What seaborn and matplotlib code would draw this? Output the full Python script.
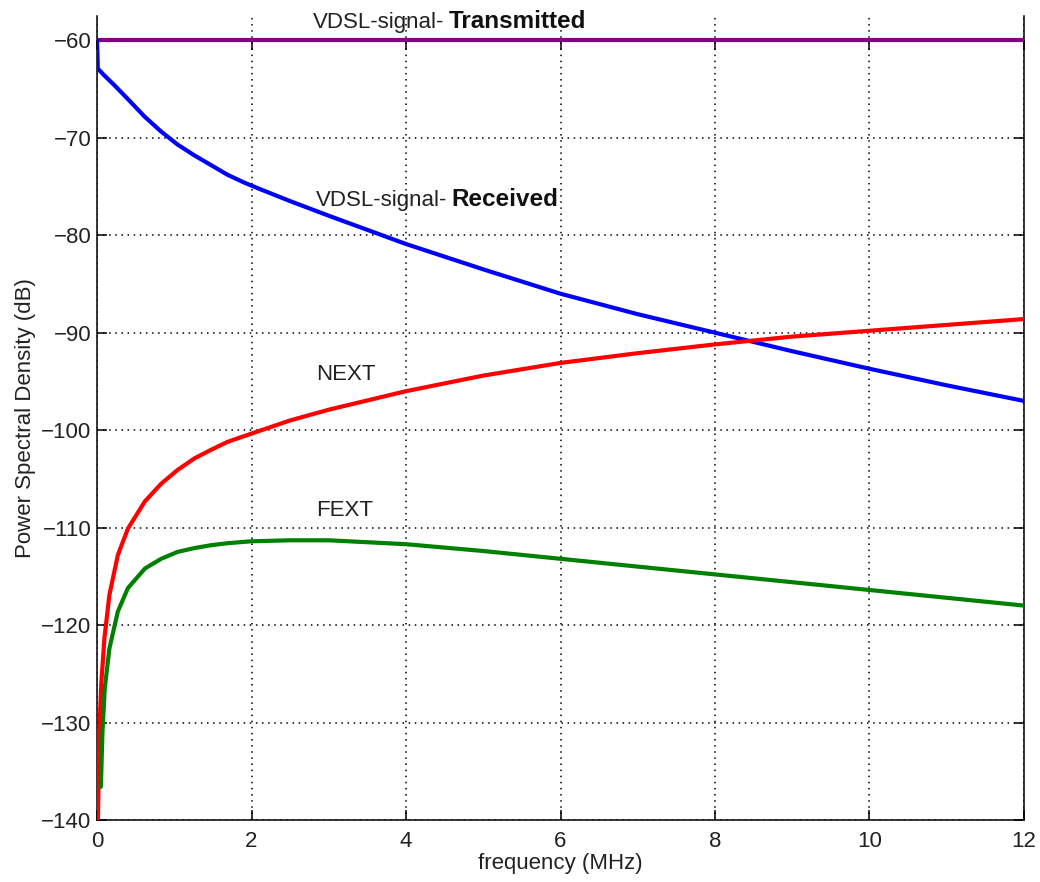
import numpy as np
import pandas as pd
import matplotlib
matplotlib.use("Agg")
import matplotlib.pyplot as plt
import seaborn as sns

# values (frequency in MHz, PSD in dB)
tx_freq = [0, 12]
tx_psd = [-60, -60]

rx_freq = [0, 0.01, 0.094, 0.224, 0.396, 0.612, 0.828, 1.043, 1.259, 1.475,
           1.69, 1.906, 2.12, 2.5, 3, 4, 5, 6, 7, 8, 9, 10, 11, 12]
rx_psd = [-60, -62.9, -63.6, -64.6, -66.0, -67.8, -69.35, -70.7, -71.8, -72.8,
          -73.8, -74.6, -75.3, -76.5, -78.0, -80.9, -83.5, -86.0, -88.1, -90.0,
          -91.9, -93.7, -95.4, -97.0]

next_freq = [0.012, 0.03, 0.055, 0.095, 0.16, 0.27, 0.40, 0.62, 0.83, 1.04,
             1.26, 1.48, 1.69, 2.0, 2.5, 3, 4, 5, 6, 7, 8, 9, 10, 11, 12]
next_psd = [-140, -131, -126, -121.4, -116.9, -112.8, -110.1, -107.3, -105.5,
            -104.1, -102.9, -102.0, -101.2, -100.35, -99.0, -97.9, -96.0,
            -94.4, -93.1, -92.1, -91.2, -90.4, -89.8, -89.2, -88.6]

fext_freq = [0.05, 0.07, 0.1, 0.16, 0.27, 0.40, 0.62, 0.83, 1.04, 1.26, 1.48,
             1.69, 2.0, 2.5, 3, 4, 5, 6, 7, 8, 9, 10, 11, 12]
fext_psd = [-136.6, -131.0, -126.5, -122.4, -118.6, -116.2, -114.2, -113.2,
            -112.5, -112.1, -111.8, -111.6, -111.4, -111.3, -111.3, -111.7,
            -112.4, -113.2, -114.0, -114.8, -115.6, -116.4, -117.2, -118.0]

sns.set_style("white")
plt.rcParams['font.family'] = ['Liberation Sans', 'DejaVu Sans']
plt.rcParams['font.size'] = 16

fig, ax = plt.subplots(figsize=(10.4, 8.82), dpi=100)
fig.subplots_adjust(left=0.0933, right=0.9846, bottom=0.0703, top=0.9819)

series = [
    (tx_freq, tx_psd, '#850085'),
    (rx_freq, rx_psd, '#0000ff'),
    (next_freq, next_psd, '#ff0000'),
    (fext_freq, fext_psd, '#008000'),
]
for fx, py, col in series:
    df = pd.DataFrame({'f': fx, 'psd': py})
    sns.lineplot(data=df, x='f', y='psd', color=col, linewidth=3,
                 estimator=None, sort=False, ax=ax, zorder=3)

ax.set_xlim(0, 12)
ax.set_ylim(-140, -57.5)
ax.set_xticks(np.arange(0, 13, 2))
ax.set_yticks(np.arange(-140, -59, 10))

ax.grid(True, color='black', linestyle=(0, (1, 3)), linewidth=1.1)
ax.set_axisbelow(True)

for s in ['left', 'right', 'bottom']:
    ax.spines[s].set_visible(True)
    ax.spines[s].set_color('black')
    ax.spines[s].set_linewidth(1.1)
ax.spines['top'].set_visible(False)

ax.tick_params(axis='both', direction='in', length=7, width=1.1,
               colors='black', labelcolor='#222222', labelsize=16)
ax.tick_params(axis='y', right=True, left=True, pad=4)
ax.tick_params(axis='x', bottom=True, top=False, pad=8)

# small tick marks hanging below the -60 dB line, as in the original box
frac = (-60 - (-140)) / (-57.5 - (-140))
sec = ax.secondary_xaxis(frac)
sec.set_xticks(np.arange(0, 13, 2))
sec.tick_params(direction='in', length=7, width=1.1, labeltop=False,
                labelbottom=False, colors='black')
for s in sec.spines.values():
    s.set_visible(False)

ax.set_xlabel('frequency (MHz)', fontsize=16, color='#222222', labelpad=0.5)
ax.set_ylabel('Power Spectral Density (dB)', fontsize=16, color='#222222',
              labelpad=4)

# curve labels: plain prefix followed by a bold word
labels = [
    (2.80, -58.7, 'VDSL-signal-', 'Transmitted'),
    (2.83, -77.0, 'VDSL-signal-', 'Received'),
]
for lx, ly, plain, bold in labels:
    t = ax.text(lx, ly, plain, fontsize=16, color='#222222', va='baseline',
                ha='left')
    ax.annotate(bold, xy=(1, 0), xycoords=t, xytext=(3, 0),
                textcoords='offset points', va='bottom', ha='left',
                fontsize=17.5, fontweight='bold', color='#111111')

ax.text(2.83, -94.85, 'NEXT', fontsize=16, color='#222222', va='baseline')
ax.text(2.83, -108.8, 'FEXT', fontsize=16, color='#222222', va='baseline')

fig.savefig('out.png', dpi=100)
